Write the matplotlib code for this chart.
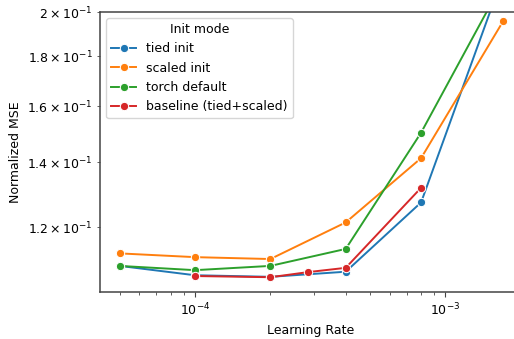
import matplotlib
matplotlib.use("Agg")
import matplotlib.pyplot as plt

# Learning rates swept per init mode
lr_tied = [5e-5, 1e-4, 2e-4, 4e-4, 8e-4, 1.7e-3]
mse_tied = [0.1095, 0.1071, 0.1067, 0.1080, 0.1273, 0.2178]

lr_scaled = [5e-5, 1e-4, 2e-4, 4e-4, 8e-4, 1.7e-3]
mse_scaled = [0.1128, 0.1118, 0.1113, 0.1214, 0.1414, 0.1956]

lr_torch = [5e-5, 1e-4, 2e-4, 4e-4, 8e-4, 1.7e-3]
mse_torch = [0.1095, 0.1084, 0.1095, 0.1140, 0.1502, 0.2149]

lr_base = [1e-4, 2e-4, 2.83e-4, 4e-4, 8e-4]
mse_base = [0.1069, 0.1066, 0.1079, 0.1090, 0.1318]

series = [
    ("tied init", lr_tied, mse_tied, "#1f77b4"),
    ("scaled init", lr_scaled, mse_scaled, "#ff7f0e"),
    ("torch default", lr_torch, mse_torch, "#2ca02c"),
    ("baseline (tied+scaled)", lr_base, mse_base, "#d62728"),
]

plt.rcParams["font.size"] = 9
plt.rcParams["axes.edgecolor"] = "#444444"
plt.rcParams["axes.linewidth"] = 1.1
plt.rcParams["xtick.color"] = "#444444"
plt.rcParams["ytick.color"] = "#444444"
plt.rcParams["xtick.labelcolor"] = "black"
plt.rcParams["ytick.labelcolor"] = "black"

fig = plt.figure(figsize=(5.14, 3.39), dpi=100)
ax = fig.add_axes([100 / 514, 47.3 / 339, 422 / 514, 279.7 / 339])

for name, x, y, c in series:
    ax.plot(x, y, marker="o", color=c, lw=1.4, ms=6,
            mec="white", mew=0.75, label=name)

ax.set_xscale("log")
ax.set_yscale("log")
ax.set_xlim(4.173e-5, 2.024e-3)
ax.set_ylim(0.1030, 0.2)
ax.set_xlabel("Learning Rate")
ax.set_ylabel("Normalized MSE")
ax.legend(title="Init mode", loc="upper left")

fig.savefig("out.png", dpi=100)
